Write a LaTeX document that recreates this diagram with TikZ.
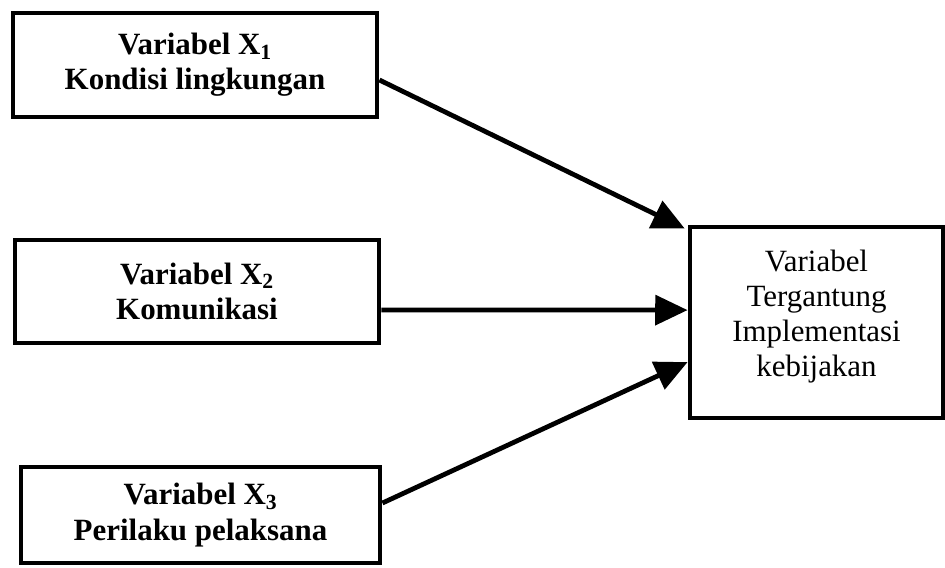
\documentclass[tikz,border=0pt]{standalone}
\usepackage{fontspec}
\setmainfont{Liberation Serif}
\usetikzlibrary{arrows.meta}

\tikzset{
  varbox/.style={draw, line width=3.4pt, rectangle, align=center, inner sep=0pt,
                 font=\fontsize{22}{25}\selectfont},
  panah/.style={line width=3.4pt, -{Triangle[length=23pt, width=21pt]}}
}

\begin{document}
\begin{tikzpicture}[x=0.025cm, y=-0.025cm]

\useasboundingbox (0,0) rectangle (945,567);

% variabel bebas
 \node[varbox, minimum width=9.1cm, minimum height=2.6cm] (x1) at (195,65)
      {\bfseries Variabel X\textsubscript{1}\\ \bfseries Kondisi lingkungan};
 \node[varbox, minimum width=9.1cm, minimum height=2.575cm] (x2) at (197,291.5)
      {\bfseries Variabel X\textsubscript{2}\\ \bfseries Komunikasi};
 \node[varbox, minimum width=8.975cm, minimum height=2.4cm] (x3) at (200.5,515)
      {\bfseries Variabel X\textsubscript{3}\\ \bfseries Perilaku pelaksana};

% variabel tergantung
 \node[varbox, minimum width=6.325cm, minimum height=4.775cm] (dv) at (816.5,322.5)
      {Variabel\\ Tergantung\\ Implementasi\\ kebijakan\\[-12pt]};

% panah
 \draw[panah] ([yshift=-0.375cm]x1.east) -- ([xshift=-2pt,yshift=-0.1cm]dv.north west);
 \draw[panah] ([yshift=-0.46cm]x2.east) -- ([yshift=0.31cm]dv.west);
 \draw[panah] ([yshift=0.3cm]x3.east) -- ([yshift=-0.99cm]dv.west);

\end{tikzpicture}
\end{document}
